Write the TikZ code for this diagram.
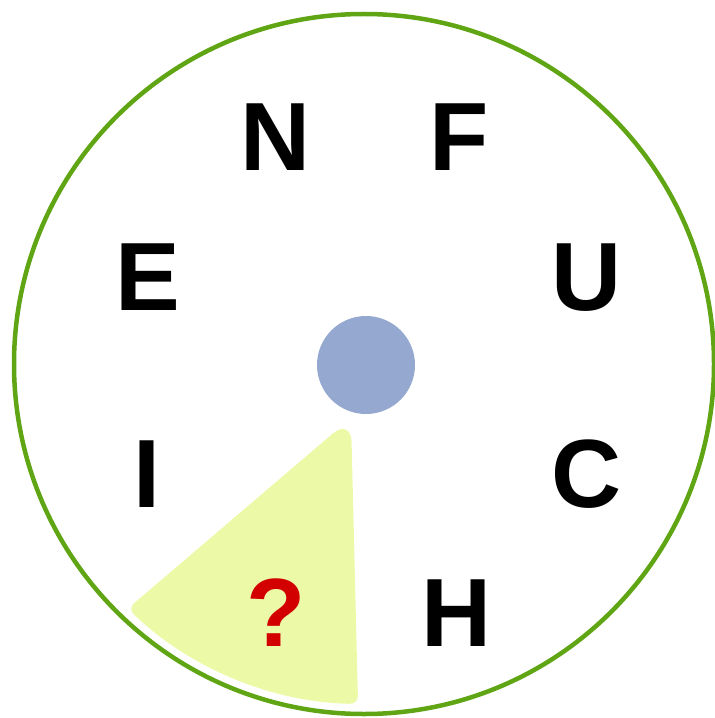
\documentclass[tikz,border=0pt]{standalone}
\usepackage{fontspec}
\usetikzlibrary{calc}
\setmainfont{Liberation Sans}
\definecolor{ringgreen}{RGB}{96,165,20}
\definecolor{wedgefill}{RGB}{236,250,168}
\definecolor{dotblue}{RGB}{148,168,208}
\definecolor{qred}{RGB}{210,0,0}
\begin{document}
\begin{tikzpicture}[x=1bp,y=-1bp,
  letter/.style={anchor=base,inner sep=0pt,font=\fontsize{97bp}{97bp}\selectfont\bfseries}]
\useasboundingbox (0,0) rectangle (715,718);
\coordinate (c) at (364,364);
\coordinate (apex) at (351,418);
\coordinate (br) at ($(c)+(91:340)$);
\coordinate (bl) at ($(c)+(134:340)$);
% wedge
\fill[wedgefill] ($(apex)!0.5!(bl)$) [rounded corners=24bp] -- (apex) [rounded corners=8bp] -- (br)
  arc[start angle=91,end angle=134,radius=340] [rounded corners=14bp] -- cycle;
% ring
\draw[ringgreen,line width=4.5bp] (c) circle[radius=350];
% centre dot
\fill[dotblue] (366,365) circle[radius=49];
% letters
\node[letter] (n) at (276,170) {N};
\node[letter] (f) at (459,170) {F};
\node[letter] (e) at (148,310) {E};
\node[letter] (u) at (587,310) {U};
\node[letter] (i) at (147,507) {I};
\node[letter] (cc) at (587,507) {C};
\node[letter,text=qred] (q) at (276,646) {?};
\node[letter] (h) at (457,646) {H};
\end{tikzpicture}
\end{document}
